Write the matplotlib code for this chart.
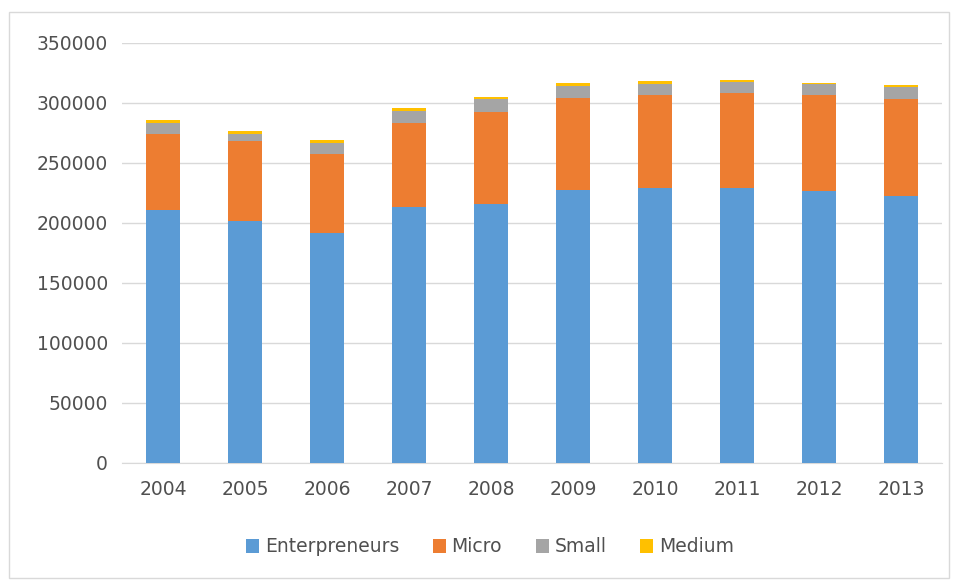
import numpy as np
import matplotlib
matplotlib.use('Agg')
import matplotlib.pyplot as plt
from matplotlib.patches import Rectangle

years = ['2004', '2005', '2006', '2007', '2008', '2009', '2010', '2011', '2012', '2013']
enterpreneurs = [211000, 202000, 192000, 213500, 215500, 227500, 229500, 229500, 227000, 222500]
micro = [63000, 66000, 65500, 70000, 77000, 76500, 77000, 79000, 79500, 80500]
small = [9500, 6500, 9500, 10000, 10500, 10000, 9000, 9000, 9000, 10000]
medium = [2000, 2500, 2000, 2500, 2000, 2500, 2500, 1500, 1500, 2000]

series = [('Enterpreneurs', enterpreneurs, '#5B9BD5'),
          ('Micro', micro, '#ED7D31'),
          ('Small', small, '#A5A5A5'),
          ('Medium', medium, '#FFC000')]

fig = plt.figure(figsize=(9.54, 5.81), dpi=100)
ax = fig.add_axes([122/954, 1-463/581, 820/954, 420/581])

x = np.arange(len(years))
bottom = np.zeros(len(years))
for name, vals, col in series:
    ax.bar(x, vals, width=0.41, bottom=bottom, color=col, label=name, zorder=3)
    bottom += np.array(vals)

ax.set_xlim(-0.5, len(years) - 0.5)
ax.set_ylim(0, 350000)
ax.set_yticks(np.arange(0, 350001, 50000))
ax.set_xticks(x)
ax.set_xticklabels(years)
ax.yaxis.grid(True, color='#D9D9D9', linewidth=1, zorder=0)
for s in ['top', 'right', 'left']:
    ax.spines[s].set_visible(False)
ax.spines['bottom'].set_color('#D9D9D9')
ax.tick_params(axis='both', length=0, labelsize=13.5, labelcolor='#505050')
ax.tick_params(axis='y', pad=10)
ax.tick_params(axis='x', pad=12)

leg = fig.legend(loc='center', bbox_to_anchor=(490/954, 1-547/581), ncol=4,
                 frameon=False, fontsize=13.5, handlelength=0.7, handleheight=0.7,
                 handletextpad=0.3, columnspacing=1.8)
for t in leg.get_texts():
    t.set_color('#505050')

fig.patches.append(Rectangle((9/954, 3/581), 940/954, 566/581, transform=fig.transFigure,
                             fill=False, edgecolor='#D9D9D9', linewidth=1))

fig.savefig('out.png', dpi=100)
